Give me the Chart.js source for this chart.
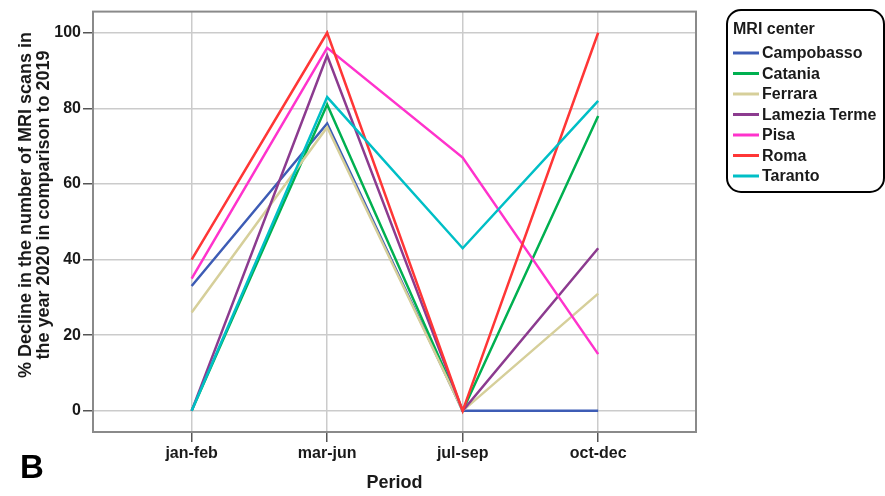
<!DOCTYPE html>
<html>
<head>
<meta charset="utf-8">
<script src="https://cdn.jsdelivr.net/npm/chart.js@4.4.1/dist/chart.umd.min.js"></script>
<style>
  html, body { margin: 0; padding: 0; background: #fff; }
  canvas { display: block; }
</style>
</head>
<body>
<canvas id="chart" width="885" height="496"></canvas>
<script>
// Periods of 2020 and MRI centers
const periods = ['jan-feb', 'mar-jun', 'jul-sep', 'oct-dec'];
const centers = ['Campobasso', 'Catania', 'Ferrara', 'Lamezia Terme', 'Pisa', 'Roma', 'Taranto'];

// % decline in MRI scans vs 2019, one value per period
const campobasso   = [33, 76, 0, 0];
const catania      = [0, 81, 0, 78];
const ferrara      = [26, 75, 0, 31];
const lameziaTerme = [0, 94, 0, 43];
const pisa         = [35, 96, 67, 15];
const roma         = [40, 100, 0, 100];
const taranto      = [0, 83, 43, 82];

const yTickValues = [0, 20, 40, 60, 80, 100];

const seriesValues = [campobasso, catania, ferrara, lameziaTerme, pisa, roma, taranto];
const seriesColors = ['#3d5cb5', '#00b050', '#d6cf9a', '#8c3b8f', '#ff33cc', '#ff3636', '#00bfc6'];

const FONT = "'Liberation Sans', Arial, sans-serif";
const TEXT = '#1a1a1a';

const datasets = centers.map((name, i) => ({
  label: name,
  data: seriesValues[i].map((v, k) => ({ x: k, y: v })),
  borderColor: seriesColors[i],
  backgroundColor: seriesColors[i],
  borderWidth: 2.5,
  pointRadius: 0,
  tension: 0,
  fill: false,
  order: centers.length - i
}));

// Frame, rotated y title, boxed legend and panel letter
const decor = {
  id: 'decor',
  beforeDatasetsDraw(chart) {
    const { ctx, chartArea: a } = chart;
    ctx.save();
    ctx.strokeStyle = '#8a8a8a';
    ctx.lineWidth = 2;
    ctx.strokeRect(a.left, a.top, a.right - a.left, a.bottom - a.top);
    ctx.restore();
  },
  afterDraw(chart) {
    const { ctx } = chart;
    ctx.save();
    ctx.fillStyle = TEXT;

    // y axis title (two lines, rotated)
    ctx.save();
    ctx.translate(26, 205);
    ctx.rotate(-Math.PI / 2);
    ctx.font = `bold 18px ${FONT}`;
    ctx.textAlign = 'center';
    ctx.textBaseline = 'middle';
    ctx.fillText('% Decline in the number of MRI scans in', 0, 0);
    ctx.fillText('the year 2020 in comparison to 2019', 0, 18);
    ctx.restore();

    // legend box
    const bx = 727, by = 10, bw = 157, bh = 182, r = 14;
    ctx.beginPath();
    ctx.roundRect(bx, by, bw, bh, r);
    ctx.lineWidth = 2;
    ctx.strokeStyle = '#000';
    ctx.stroke();

    ctx.font = `bold 16px ${FONT}`;
    ctx.textAlign = 'left';
    ctx.textBaseline = 'middle';
    ctx.fillText('MRI center', 733, 30);

    chart.data.datasets.forEach((ds, i) => {
      const y = 53 + i * 20.5;
      ctx.beginPath();
      ctx.moveTo(733, y);
      ctx.lineTo(759, y);
      ctx.strokeStyle = ds.borderColor;
      ctx.lineWidth = 3;
      ctx.stroke();
      ctx.fillStyle = TEXT;
      ctx.fillText(ds.label, 762, y + 1);
    });

    // panel letter
    ctx.font = `bold 33px ${FONT}`;
    ctx.textBaseline = 'alphabetic';
    ctx.fillStyle = '#000';
    ctx.fillText('B', 20, 478);
    ctx.restore();
  }
};

new Chart(document.getElementById('chart'), {
  type: 'line',
  data: { datasets },
  options: {
    responsive: false,
    devicePixelRatio: 1,
    animation: false,
    layout: { padding: { left: 0, top: 11, right: 189, bottom: 0 } },
    plugins: {
      legend: { display: false },
      tooltip: { enabled: false }
    },
    scales: {
      x: {
        type: 'linear',
        min: -0.728,
        max: 3.722,
        afterFit(s) { s.height = 64; },
        afterBuildTicks(s) { s.ticks = periods.map((p, k) => ({ value: k })); },
        ticks: {
          autoSkip: false,
          maxRotation: 0,
          padding: 2,
          color: TEXT,
          font: { family: FONT, size: 16, weight: 'bold' },
          callback: (v) => periods[v]
        },
        grid: { color: '#cbcbcb', lineWidth: 1.5, tickLength: 10, tickColor: '#555', tickWidth: 1.5 },
        border: { display: false },
        title: {
          display: true,
          text: 'Period',
          color: TEXT,
          font: { family: FONT, size: 18, weight: 'bold' },
          padding: { top: 0, bottom: 2 }
        }
      },
      y: {
        type: 'linear',
        min: -5.6,
        max: 105.6,
        afterFit(s) { s.width = 93; },
        afterBuildTicks(s) { s.ticks = yTickValues.map(v => ({ value: v })); },
        ticks: {
          padding: 2,
          color: TEXT,
          font: { family: FONT, size: 16, weight: 'bold' }
        },
        grid: { color: '#cbcbcb', lineWidth: 1.5, tickLength: 10, tickColor: '#555', tickWidth: 1.5 },
        border: { display: false }
      }
    }
  },
  plugins: [decor]
});
</script>
</body>
</html>
